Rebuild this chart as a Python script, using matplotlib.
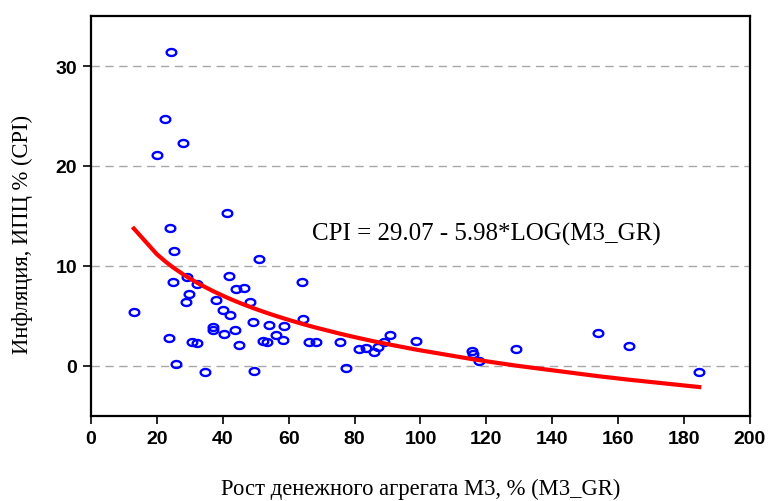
import numpy as np
import matplotlib
matplotlib.use("Agg")
import matplotlib.pyplot as plt
from matplotlib.path import Path

# Scatter data (M3 growth %, CPI %)
m3_gr = [24.2, 22.5, 27.9, 20.0, 41.4, 24.1, 25.2, 51.1, 24.8, 29.2, 32.3, 42.0,
         44.0, 46.5, 29.6, 28.7, 38.0, 48.2, 13.0, 40.2, 42.1, 49.2, 54.1, 58.7,
         36.9, 36.9, 43.8, 40.5, 56.1, 23.8, 58.3, 30.6, 32.2, 52.2, 53.3, 44.8,
         25.7, 34.5, 49.5, 63.9, 64.2, 66.1, 68.2, 75.6, 77.4, 81.2, 83.6, 85.8,
         87.1, 88.8, 90.6, 98.7, 115.6, 116.0, 117.7, 129.0, 153.8, 163.2, 184.6]
cpi = [31.4, 24.7, 22.3, 21.1, 15.3, 13.8, 11.5, 10.7, 8.4, 8.9, 8.2, 9.0,
       7.7, 7.8, 7.2, 6.4, 6.6, 6.4, 5.4, 5.6, 5.1, 4.4, 4.1, 4.0,
       3.9, 3.6, 3.6, 3.2, 3.1, 2.8, 2.6, 2.4, 2.3, 2.5, 2.4, 2.1,
       0.2, -0.6, -0.5, 8.4, 4.7, 2.4, 2.4, 2.4, -0.2, 1.7, 1.8, 1.4,
       1.9, 2.4, 3.1, 2.5, 1.5, 1.2, 0.5, 1.7, 3.3, 2.0, -0.6]

# Regression coefficients
b0, b1 = 29.07, -5.98
eq_text = "CPI = 29.07 - 5.98*LOG(M3_GR)"

xt = [0, 20, 40, 60, 80, 100, 120, 140, 160, 180, 200]
yt = [0, 10, 20, 30]

fig = plt.figure(figsize=(7.68, 5.02), dpi=100)
ax = fig.add_axes([0.1185, 0.170, 0.858, 0.796])

# elliptical open marker
t = np.linspace(0, 2 * np.pi, 40)
ell = Path(np.column_stack([np.cos(t), 0.72 * np.sin(t)]))

ax.plot(m3_gr, cpi, linestyle='none', marker=ell, markersize=7,
        markerfacecolor='none', markeredgecolor='#0000ff', markeredgewidth=1.7, zorder=3)

xs = np.sort(np.array(m3_gr))
ax.plot(xs, b0 + b1 * np.log(xs), color='#ff0000', lw=3.0, zorder=4)

ax.set_xlim(0, 200)
ax.set_ylim(-5, 35)
ax.set_xticks(xt)
ax.set_yticks(yt)
for y in yt:
    ax.axhline(y, color='#a8a8a8', lw=1.0, ls=(0, (6, 4)), zorder=1)

ax.tick_params(direction='out', length=6, width=1.2, labelsize=14, colors='black', pad=4)
for lab in ax.get_xticklabels() + ax.get_yticklabels():
    lab.set_fontweight('bold')
    lab.set_family('Liberation Sans')
for s in ax.spines.values():
    s.set_linewidth(1.6)

ax.text(67.0, 13.2, eq_text, fontsize=18, family='Liberation Serif', va='center', ha='left')

fig.text(22 / 768, 1 - 234 / 502, "Инфляция, ИПЦ % (CPI)", fontsize=16.3,
         family='Liberation Serif', rotation=90, ha='center', va='center')
fig.text(421 / 768, 2 / 502, "Рост денежного агрегата М3, % (M3_GR)", fontsize=16.3,
         family='Liberation Serif', ha='center', va='bottom')

fig.savefig("out.png", dpi=100)
